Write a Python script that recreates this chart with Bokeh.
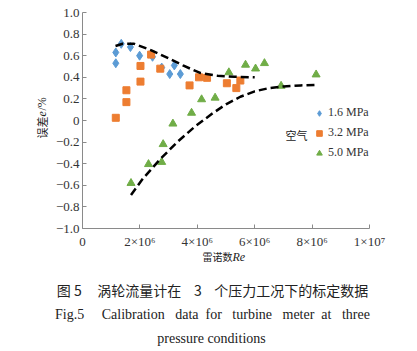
from math import pi
from bokeh.plotting import figure
from bokeh.models import Label, Legend, LegendItem, FixedTicker, Range1d
from bokeh.embed import file_html
from bokeh.resources import INLINE

# ---- data ----
re_16 = [1.16e6, 1.16e6, 1.35e6, 1.67e6, 1.99e6, 2.44e6, 2.76e6, 3.04e6, 3.20e6, 3.41e6]
err_16 = [0.63, 0.53, 0.71, 0.68, 0.60, 0.59, 0.49, 0.43, 0.51, 0.43]

re_32 = [1.16e6, 1.53e6, 1.53e6, 2.02e6, 2.02e6, 2.39e6, 2.71e6, 3.73e6, 4.06e6, 4.34e6, 5.03e6, 5.36e6, 5.50e6]
err_32 = [0.025, 0.17, 0.28, 0.36, 0.505, 0.61, 0.48, 0.325, 0.40, 0.395, 0.345, 0.30, 0.37]

re_50 = [1.69e6, 2.30e6, 2.76e6, 2.81e6, 3.15e6, 3.80e6, 4.15e6, 4.62e6, 5.10e6, 5.68e6, 6.03e6, 6.34e6, 6.92e6, 8.14e6]
err_50 = [-0.58, -0.405, -0.385, -0.22, -0.03, 0.07, 0.195, 0.21, 0.445, 0.515, 0.48, 0.53, 0.32, 0.425]

re_fit1 = [1.15e6, 1.4e6, 1.8e6, 2.4e6, 3.0e6, 3.5e6, 4.1e6, 4.7e6, 5.3e6, 6.0e6]
err_fit1 = [0.69, 0.71, 0.71, 0.65, 0.575, 0.51, 0.44, 0.415, 0.405, 0.40]

re_fit2 = [1.69e6, 2.1e6, 2.7e6, 3.3e6, 3.9e6, 4.5e6, 5.0e6, 5.5e6, 6.0e6, 6.5e6, 7.0e6, 7.6e6, 8.1e6]
err_fit2 = [-0.69, -0.54, -0.36, -0.20, -0.06, 0.06, 0.15, 0.22, 0.27, 0.30, 0.315, 0.325, 0.33]

series_names = ["1.6 MPa", "3.2 MPa", "5.0 MPa"]
x_ticks = [0, 2e6, 4e6, 6e6, 8e6, 1e7]
x_tick_labels = ["0", "2×10⁶", "4×10⁶", "6×10⁶", "8×10⁶", "1×10⁷"]
y_ticks = [-1.0, -0.8, -0.6, -0.4, -0.2, 0, 0.2, 0.4, 0.6, 0.8, 1.0]
y_tick_labels = ["−1.0", "−0.8", "−0.6", "−0.4", "−0.2", "0", "0.2", "0.4", "0.6", "0.8", "1.0"]

# ---- geometry: plot area of the chart inside the 417x351 canvas ----
W, H = 417, 351
L, R, T, B = 82, 369, 12, 228

def dx(px):
    return (px - L) / (R - L) * 1e7

def dy(py):
    return 1 - (py - T) / (B - T) * 2

p = figure(width=W, height=H, x_range=Range1d(dx(0), dx(W)), y_range=Range1d(dy(H), dy(0)),
           output_backend="svg", toolbar_location=None, min_border=0)
p.outline_line_color = None
p.grid.visible = False
p.background_fill_color = "white"

xa, ya = p.xaxis[0], p.yaxis[0]
xa.fixed_location = -1.0
xa.bounds = (0, 1e7)
ya.fixed_location = 0
ya.bounds = (-1.0, 1.0)
for ax in (xa, ya):
    ax.axis_line_color = "#8a8a8a"
    ax.major_tick_line_color = "#8a8a8a"
    ax.major_tick_in = 4
    ax.major_tick_out = 0
    ax.minor_tick_line_color = None
    ax.major_label_text_font = "Liberation Serif"
    ax.major_label_text_font_size = "13px"
    ax.major_label_text_color = "#333333"

xa.ticker = FixedTicker(ticks=x_ticks)
xa.major_label_overrides = {t: s for t, s in zip(x_ticks, x_tick_labels)}
xa.major_label_standoff = 5
ya.ticker = FixedTicker(ticks=y_ticks)
ya.major_label_overrides = {t: s for t, s in zip(y_ticks, y_tick_labels)}
ya.major_label_standoff = 3

r16 = p.scatter(re_16, err_16, marker="diamond", size=9, color="#5B9BD5")
r32 = p.scatter(re_32, err_32, marker="square", size=7, color="#ED7D31")
r50 = p.scatter(re_50, err_50, marker="triangle", size=8, color="#70AD47")

p.line(re_fit1, err_fit1, line_color="black", line_width=2.5, line_dash="8 4")
p.line(re_fit2, err_fit2, line_color="black", line_width=2.5, line_dash="8 4")

legend = Legend(items=[LegendItem(label=n, renderers=[r]) for n, r in zip(series_names, [r16, r32, r50])],
                location=(312, H - 160), glyph_width=14, glyph_height=14, label_height=14,
                spacing=5, padding=0, margin=0, label_standoff=2,
                border_line_color=None, background_fill_alpha=0,
                label_text_font="Liberation Serif", label_text_font_size="12px",
                label_text_color="#333333")
p.add_layout(legend)

def lab(text, px, py, size, font="Liberation Serif", align="center", angle=0, style="normal", color="#222222"):
    p.add_layout(Label(x=dx(px), y=dy(py), text=text, text_font=font, text_font_size=size,
                       text_align=align, text_baseline="middle", angle=angle,
                       text_font_style=style, text_color=color))

lab("空气", 296, 134, "11px", font="Noto Sans CJK SC")

# y axis title
lab("误差", 41, 138, "11px", font="Noto Sans CJK SC", align="left", angle=pi / 2)
lab("e", 41, 116, "12px", align="left", angle=pi / 2, style="italic")
lab("/%", 41, 110, "12px", align="left", angle=pi / 2)

# x axis title
lab("雷诺数", 202, 256, "10px", font="Noto Sans CJK SC", align="left")
lab("Re", 232, 256, "12px", align="left", style="italic")

# caption
NB = "\u00a0"
line1 = "图" + NB + "5" + NB * 5 + "涡轮流量计在" + NB * 4 + "3" + NB * 4 + "个压力工况下的标定数据"
words = "Calibration data for turbine meter at three".split(" ")
gaps = [2, 1, 2, 2, 1, 2]
line2 = "Fig.5" + NB * 5 + words[0]
for g, w in zip(gaps, words[1:]):
    line2 += " " + NB * g + w
lab(line1, 212, 289, "14px", font="Noto Sans CJK SC")
lab(line2, 212, 314, "14px")
lab("pressure conditions", 211, 338, "14px")

open("out.html", "w").write(file_html(p, INLINE))
